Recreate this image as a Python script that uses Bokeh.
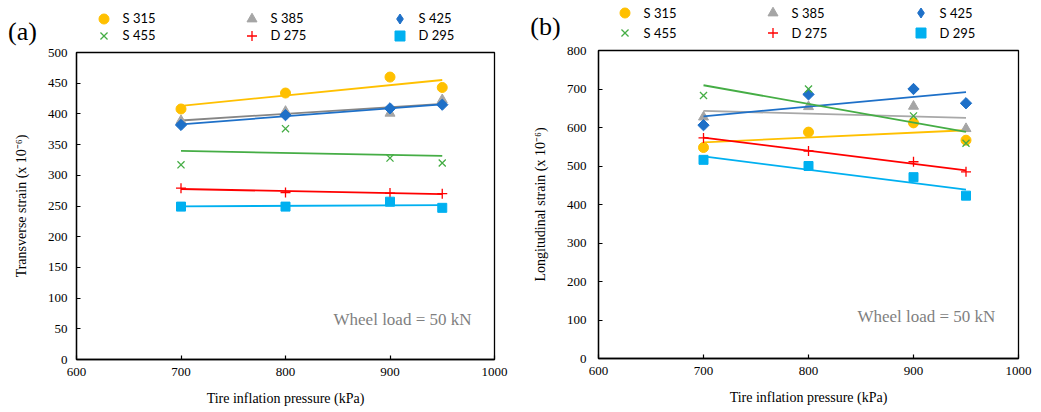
import numpy as np
from bokeh.plotting import figure
from bokeh.layouts import row
from bokeh.models import (Range1d, FixedTicker, Legend, LegendItem, Label)
from bokeh.embed import file_html
from bokeh.resources import INLINE

# Tire inflation pressure (kPa)
pressure = [700, 800, 900, 950]

series_names = ["S 315", "S 385", "S 425", "S 455", "D 275", "D 295"]

# Transverse strain (x 10^-6)
trans_s315 = [408, 434, 460, 443]
trans_s385 = [389, 404, 401, 423]
trans_s425 = [382, 398, 409, 415]
trans_s455 = [317, 376, 328, 320]
trans_d275 = [279, 272, 271, 270]
trans_d295 = [249, 249, 257, 247]

# Longitudinal strain (x 10^-6)
long_s315 = [548, 588, 612, 567]
long_s385 = [627, 654, 655, 597]
long_s425 = [606, 686, 700, 663]
long_s455 = [683, 700, 630, 559]
long_d275 = [573, 539, 511, 485]
long_d295 = [516, 500, 471, 423]

x_ticks = [600, 700, 800, 900, 1000]
trans_ticks = list(range(0, 501, 50))
long_ticks = list(range(0, 801, 100))

colors = ["#FFC000", "#A5A5A5", "#1E70C8", "#45AD45", "#FF0000", "#00B0F0"]
# the diamond is a square turned by 45 degrees
markers = ["circle", "triangle", "square", "x", "cross", "square"]
angles = [0, 0, np.pi / 4, 0, 0, 0]
sizes = [10, 10, 8, 10, 10, 9]

SERIF = "Liberation Serif"
SANS = "Lato"
H = 412
X_MIN, X_MAX = 600, 1000
KEY = 25  # legend key box; markers are drawn at 0.4 of it


def build_panel(width, tag, y_values, y_max, y_ticks, y_label, box, cfg, trend_grey):
    # box: pixel edges of the plotting box inside this panel
    left, right, top, bottom = box
    kx = (right - left) / (X_MAX - X_MIN)
    ky = (bottom - top) / y_max
    x_range = Range1d(X_MIN - left / kx, X_MAX + (width - right) / kx)
    y_range = Range1d(-(H - bottom) / ky, y_max + top / ky)

    p = figure(width=width, height=H, output_backend="svg", toolbar_location=None,
               x_range=x_range, y_range=y_range, min_border=0,
               background_fill_color="white", border_fill_color="white")
    p.grid.visible = False
    p.outline_line_color = None

    p.xaxis.fixed_location = 0
    p.yaxis.fixed_location = X_MIN
    p.xaxis.bounds = (X_MIN, X_MAX)
    p.yaxis.bounds = (0, y_max)

    for ax in (p.xaxis[0], p.yaxis[0]):
        ax.axis_line_color = "black"
        ax.axis_line_width = 1.3
        ax.major_tick_in = 4
        ax.major_tick_out = 0
        ax.major_tick_line_color = "black"
        ax.major_tick_line_width = 1.2
        ax.minor_tick_line_color = None
        ax.major_label_text_font = SERIF
        ax.major_label_text_font_size = "13px"
        ax.major_label_text_color = "black"
        ax.axis_label_text_font = SERIF
        ax.axis_label_text_font_size = "14px"
        ax.axis_label_text_font_style = "normal"
        ax.axis_label_text_color = "black"

    p.xaxis.ticker = FixedTicker(ticks=x_ticks)
    p.yaxis.ticker = FixedTicker(ticks=y_ticks)
    p.xaxis.axis_label = "Tire inflation pressure (kPa)"
    p.yaxis.axis_label = y_label
    p.xaxis.major_label_standoff = 8
    p.xaxis.axis_label_standoff = 12
    p.yaxis.major_label_standoff = cfg["ylab_standoff"]
    p.yaxis.axis_label_standoff = 16

    # plot-area border
    p.quad(left=[X_MIN], right=[X_MAX], bottom=[0], top=[y_max],
           fill_color=None, line_color="black", line_width=1.3)

    items = []
    for i, (name, ys) in enumerate(zip(series_names, y_values)):
        # least-squares trend line over the measured pressure range
        slope, icpt = np.polyfit(pressure, ys, 1)
        xs_fit = [pressure[0], pressure[-1]]
        ys_fit = [slope * x + icpt for x in xs_fit]
        line_color = trend_grey if i == 1 else colors[i]
        p.line(xs_fit, ys_fit, line_color=line_color, line_width=1.8)
        key = None
        if angles[i]:
            # legend keys are never rotated: a plain diamond glyph, tucked
            # under the turned squares, supplies the key for this series
            key = p.scatter(pressure, ys, marker="diamond", size=9,
                            fill_color=colors[i], line_color=colors[i])
        r = p.scatter(pressure, ys, marker=markers[i], size=sizes[i],
                      angle=angles[i],
                      fill_color=colors[i], line_color=colors[i],
                      line_width=1.3 if markers[i] in ("x", "cross") else 1)
        items.append(LegendItem(label=name, renderers=[key or r]))

    # legend: two rows of three entries, one Legend per row
    col_gap = -8
    standoff = 7
    label_w = cfg["col_pitch"] - KEY - standoff - col_gap
    for k in range(2):
        row_center = cfg["legend_y"] + k * cfg["row_pitch"]
        legend = Legend(items=items[3 * k:3 * k + 3], orientation="horizontal",
                        location=(cfg["legend_x"] - KEY / 2,
                                  H - (row_center - KEY / 2) - KEY),
                        glyph_width=KEY, glyph_height=KEY,
                        label_height=KEY, label_width=label_w,
                        label_standoff=standoff, spacing=col_gap,
                        padding=0, margin=0,
                        border_line_alpha=0, background_fill_alpha=0,
                        label_text_font=SANS, label_text_font_size="13px",
                        label_text_color="black")
        p.add_layout(legend, "center")

    p.add_layout(Label(x=cfg["tag_x"], y=H - cfg["tag_y"],
                       x_units="screen", y_units="screen", text=tag,
                       text_font=SERIF, text_font_size="26px",
                       text_color="black", text_align="center",
                       text_baseline="middle"))

    p.add_layout(Label(x=978, y=cfg["note_y"], text="Wheel load = 50 kN",
                       text_font=SERIF, text_font_size="17px",
                       text_color="#7F7F7F", text_align="right",
                       text_baseline="middle"))
    return p


pa = build_panel(
    520, "(a)",
    [trans_s315, trans_s385, trans_s425, trans_s455, trans_d275, trans_d295],
    500, trans_ticks, "Transverse strain (x 10\u207b\u2076)",
    (76, 494, 52, 359),
    dict(legend_x=103, legend_y=18, row_pitch=17, col_pitch=140, ylab_standoff=9,
         tag_x=22, tag_y=31, note_y=65),
    "#858585")

pb = build_panel(
    521, "(b)",
    [long_s315, long_s385, long_s425, long_s455, long_d275, long_d295],
    800, long_ticks, "Longitudinal strain (x 10\u207b\u2076)",
    (78, 498, 50, 358),
    dict(legend_x=104, legend_y=12.5, row_pitch=20, col_pitch=140, ylab_standoff=12,
         tag_x=25, tag_y=26, note_y=109),
    "#A8A8A8")

layout = row(pa, pb, spacing=0)
open("out.html", "w").write(file_html(layout, INLINE))
